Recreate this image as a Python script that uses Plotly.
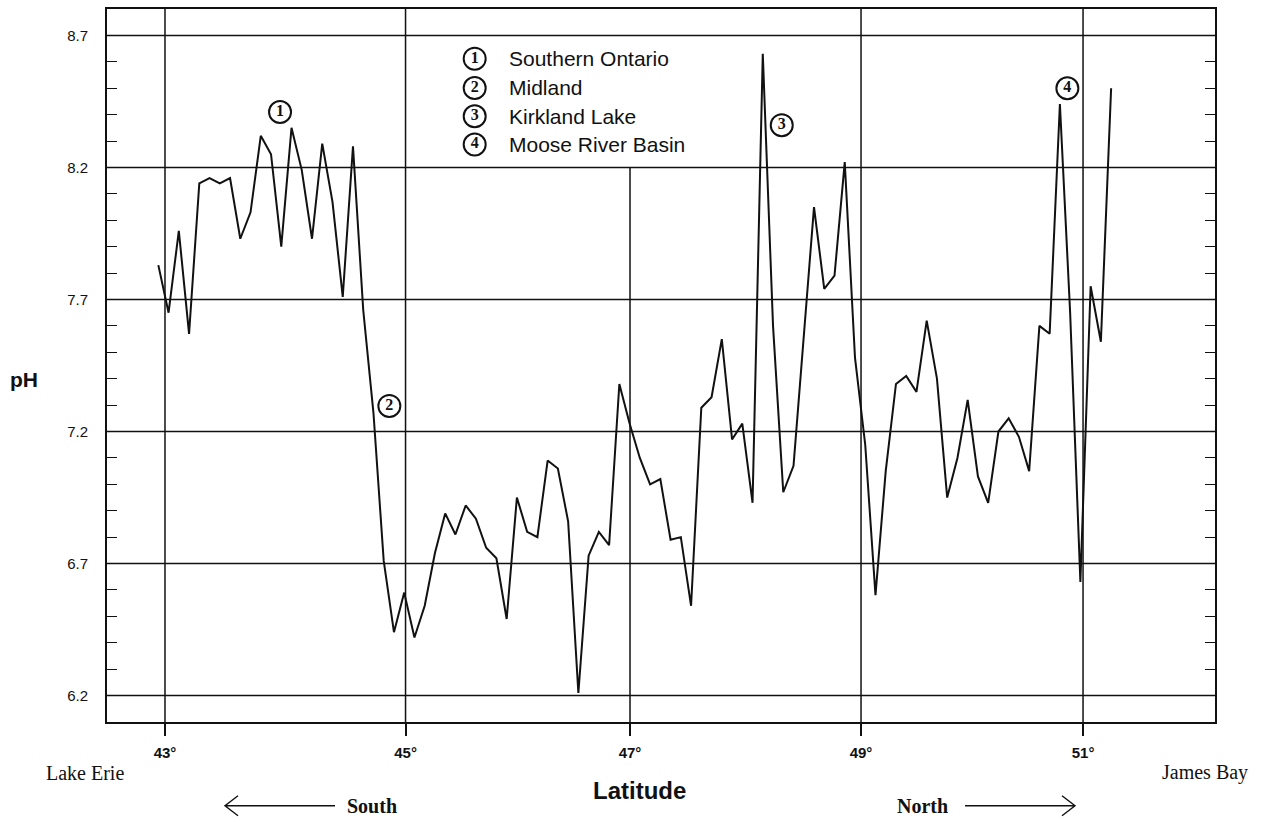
import plotly.graph_objects as go

# pH of surface water at each sampling station along the transect,
# from Lake Erie (south) to James Bay (north)
ph_values = [
    7.83, 7.65, 7.96, 7.57, 8.14, 8.16, 8.14, 8.16, 7.93, 8.03,
    8.32, 8.25, 7.90, 8.35, 8.19, 7.93, 8.29, 8.07, 7.71, 8.28,
    7.66, 7.27, 6.71, 6.44, 6.59, 6.42, 6.54, 6.74, 6.89, 6.81,
    6.92, 6.87, 6.76, 6.72, 6.49, 6.95, 6.82, 6.80, 7.09, 7.06,
    6.86, 6.21, 6.73, 6.82, 6.77, 7.38, 7.23, 7.10, 7.00, 7.02,
    6.79, 6.80, 6.54, 7.29, 7.33, 7.55, 7.17, 7.23, 6.93, 8.63,
    7.60, 6.97, 7.07, 7.55, 8.05, 7.74, 7.79, 8.22, 7.48, 7.15,
    6.58, 7.05, 7.38, 7.41, 7.35, 7.62, 7.40, 6.95, 7.10, 7.32,
    7.03, 6.93, 7.20, 7.25, 7.18, 7.05, 7.60, 7.57, 8.44, 7.65,
    6.63, 7.75, 7.54, 8.50,
]
stations = list(range(1, len(ph_values) + 1))

# Latitude marks and the station position where each one falls
lat_labels = ["43°", "45°", "47°", "49°", "51°"]
lat_positions = [1.65, 25.13, 47.04, 69.59, 91.26]

# pH gridlines / labelled ticks
ph_major = [6.2, 6.7, 7.2, 7.7, 8.2, 8.7]

# Regions marked on the profile
region_numbers = ["1", "2", "3", "4"]
region_names = ["Southern Ontario", "Midland", "Kirkland Lake", "Moose River Basin"]

# ---------------------------------------------------------------------------
W, H = 1262, 822
M_L, M_R, M_T, M_B = 107, 47, 7, 100
X_RANGE = [-4.01, 104.14]
Y_RANGE = [6.1, 8.8]
INK = "#111111"

PW = W - M_L - M_R
PH = H - M_T - M_B


def paper(px, py):
    """Page pixel position -> paper coordinates."""
    return (px - M_L) / PW, (H - M_B - py) / PH


fig = go.Figure()

# pH profile
fig.add_trace(go.Scatter(
    x=stations, y=ph_values, mode="lines",
    line=dict(color=INK, width=2),
    hoverinfo="x+y", showlegend=False,
))

# circled region numbers on the profile
marker_x = [12.88, 23.55, 61.85, 89.73]
marker_y = [8.41, 7.297, 8.36, 8.50]
# circled numbers of the key
key_x = 31.88
key_y = [8.612, 8.501, 8.394, 8.287]

circle_style = dict(symbol="circle-open", size=22, color=INK, line=dict(color=INK, width=2))
digit_font = dict(family="Liberation Serif", size=16, color=INK, weight="bold")

fig.add_trace(go.Scatter(
    x=marker_x + [key_x] * 4, y=marker_y + key_y,
    mode="markers+text", text=region_numbers + region_numbers,
    textposition="middle center", textfont=digit_font,
    marker=circle_style, hoverinfo="skip", showlegend=False,
))

annotations = []
for name, yy in zip(region_names, key_y):
    annotations.append(dict(
        x=35.0, y=yy, xref="x", yref="y", text=name, showarrow=False,
        xanchor="left", yanchor="middle",
        font=dict(family="Liberation Sans", size=21, color=INK),
    ))

shapes = []
# horizontal gridlines
for v in ph_major:
    shapes.append(dict(type="line", xref="x domain", yref="y", x0=0, x1=1, y0=v, y1=v,
                       line=dict(color=INK, width=1.5), layer="below"))
# vertical latitude lines (the 47° line stops below the key)
for lab, pos in zip(lat_labels, lat_positions):
    top = 8.2 if lab == "47°" else Y_RANGE[1]
    shapes.append(dict(type="line", xref="x", yref="y", x0=pos, x1=pos, y0=Y_RANGE[0], y1=top,
                       line=dict(color=INK, width=1.5), layer="below"))


def arrow_path(x_from, x_to, y, head):
    """Open-headed horizontal arrow pointing at x_to, in paper units."""
    ax0, ay = paper(x_from, y)
    ax1, _ = paper(x_to, y)
    back = 13 if x_to > x_from else -13
    hx, hy1 = paper(x_to - back, y - head)
    _, hy2 = paper(x_to - back, y + head)
    return (f"M {ax0},{ay} L {ax1},{ay} "
            f"M {hx},{hy1} L {ax1},{ay} L {hx},{hy2}")


shapes.append(dict(type="path", xref="paper", yref="paper",
                   path=arrow_path(335, 225, 806, 10), line=dict(color=INK, width=1.4)))
shapes.append(dict(type="path", xref="paper", yref="paper",
                   path=arrow_path(965, 1075, 806, 10), line=dict(color=INK, width=1.4)))


def page_text(text, px, py, family, size, bold=False, xanchor="center"):
    x, y = paper(px, py)
    annotations.append(dict(
        x=x, y=y, xref="paper", yref="paper", showarrow=False,
        text=f"<b>{text}</b>" if bold else text,
        xanchor=xanchor, yanchor="middle",
        font=dict(family=family, size=size, color=INK),
    ))


page_text("pH", 24, 379, "Liberation Sans", 21, bold=True)
page_text("Latitude", 639, 791, "Liberation Sans", 24, bold=True)
page_text("Lake Erie", 85, 773, "Liberation Serif", 20)
page_text("James Bay", 1205, 773, "Liberation Serif", 20)
page_text("South", 372, 806, "Liberation Serif", 20, bold=True)
page_text("North", 922, 806, "Liberation Serif", 20, bold=True)

fig.update_layout(
    width=W, height=H,
    margin=dict(l=M_L, r=M_R, t=M_T, b=M_B),
    paper_bgcolor="white", plot_bgcolor="white",
    shapes=shapes, annotations=annotations,
    xaxis=dict(
        range=X_RANGE, showgrid=False, zeroline=False,
        tickvals=lat_positions, ticktext=lat_labels,
        ticks="outside", ticklen=12, tickwidth=1.5, tickcolor=INK,
        tickfont=dict(family="Liberation Sans", size=15, color=INK, weight="bold"),
        ticklabelstandoff=4,
        showline=True, linecolor=INK, linewidth=2, mirror=True,
    ),
    yaxis=dict(
        range=Y_RANGE, showgrid=False, zeroline=False,
        tickvals=ph_major, ticktext=[f"{v:.1f}" for v in ph_major],
        ticks="inside", ticklen=10, tickwidth=1.3, tickcolor=INK,
        minor=dict(dtick=0.1, tick0=6.2, ticks="inside", ticklen=10,
                   tickwidth=1.3, tickcolor=INK, showgrid=False),
        tickfont=dict(family="Liberation Sans", size=15, color=INK),
        ticklabelstandoff=14,
        showline=True, linecolor=INK, linewidth=2, mirror="ticks",
    ),
)

fig.write_html("out.html")
